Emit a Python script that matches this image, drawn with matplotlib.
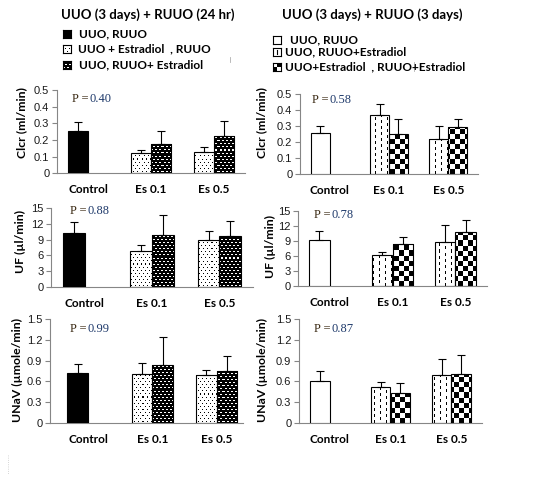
import numpy as np
import matplotlib
matplotlib.use("Agg")
import matplotlib.pyplot as plt
from matplotlib.lines import Line2D

W, H, DPI = 542, 490, 100

# ---------------- data ----------------
categories = ["Control", "Es 0.1", "Es 0.5"]

title_24h = "UUO (3 days) + RUUO (24 hr)"
title_3d = "UUO (3 days) + RUUO (3 days)"
legend_24h = ["UUO, RUUO", "UUO + Estradiol  , RUUO", "UUO, RUUO+ Estradiol"]
legend_3d = ["UUO, RUUO", "UUO, RUUO+Estradiol", "UUO+Estradiol  , RUUO+Estradiol"]

# Clcr (ml/min)
clcr_24_ctrl, clcr_24_ctrl_err = 0.254, 0.052
clcr_24_s1, clcr_24_s1_err = [0.122, 0.128], [0.018, 0.030]
clcr_24_s2, clcr_24_s2_err = [0.176, 0.224], [0.078, 0.090]
clcr_3d_ctrl, clcr_3d_ctrl_err = 0.258, 0.045
clcr_3d_s1, clcr_3d_s1_err = [0.372, 0.222], [0.068, 0.082]
clcr_3d_s2, clcr_3d_s2_err = [0.253, 0.297], [0.090, 0.050]

# UF (ul/min)
uf_24_ctrl, uf_24_ctrl_err = 10.2, 2.1
uf_24_s1, uf_24_s1_err = [6.77, 8.87], [1.13, 1.73]
uf_24_s2, uf_24_s2_err = [9.83, 9.64], [3.87, 2.86]
uf_3d_ctrl, uf_3d_ctrl_err = 9.07, 1.93
uf_3d_s1, uf_3d_s1_err = [6.07, 8.67], [0.60, 3.40]
uf_3d_s2, uf_3d_s2_err = [8.27, 10.67], [1.40, 2.40]

# UNaV (umole/min)
unav_24_ctrl, unav_24_ctrl_err = 0.72, 0.127
unav_24_s1, unav_24_s1_err = [0.70, 0.687], [0.161, 0.073]
unav_24_s2, unav_24_s2_err = [0.832, 0.75], [0.416, 0.213]
unav_3d_ctrl, unav_3d_ctrl_err = 0.60, 0.145
unav_3d_s1, unav_3d_s1_err = [0.522, 0.687], [0.063, 0.232]
unav_3d_s2, unav_3d_s2_err = [0.426, 0.70], [0.145, 0.277]

p_values = ["0.40", "0.58", "0.88", "0.78", "0.99", "0.87"]

ylabels = ["Clcr (ml/min)", "UF (\u00b5l/min)", "UNaV (\u00b5mole/min)"]
yticks_clcr = [0, 0.1, 0.2, 0.3, 0.4, 0.5]
yticklabels_clcr = ["0", "0.1", "0.2", "0.3", "0.4", "0.5"]
yticks_uf = [0, 3, 6, 9, 12, 15]
yticklabels_uf = ["0", "3", "6", "9", "12", "15"]
yticks_unav = [0, 0.3, 0.6, 0.9, 1.2, 1.5]
yticklabels_unav = ["0", "0.3", "0.6", "0.9", "1.2", "1.5"]

# ---------------- styling ----------------
plt.rcParams['font.family'] = ['Liberation Sans', 'DejaVu Sans']
BOLD = dict(family=['Lato', 'DejaVu Sans'], weight='bold')
AXC = '#868686'


def texture(kind, h, w):
    yy, xx = np.mgrid[0:h, 0:w]
    if kind == 'dots':
        shift = ((yy // 3) % 2) * 2
        ink = (yy % 3 == 1) & ((xx + shift) % 4 == 0)
        img = np.where(ink, 0.0, 1.0)
    elif kind == 'brick':
        shift = ((yy // 3) % 2) * 2
        light = (yy % 3 == 1) & (((xx + shift) % 4) < 2)
        img = np.where(light, 1.0, 0.0)
    elif kind == 'vdash':
        shift = ((xx // 6) % 2) * 3
        ink = (xx % 6 == 3) & (((yy + shift) % 6) < 3)
        img = np.where(ink, 0.0, 1.0)
    elif kind == 'checker':
        img = np.where(((xx // 5) + (yy // 5)) % 2 == 0, 0.0, 1.0)
    elif kind == 'black':
        img = np.zeros((h, w))
    else:
        img = np.ones((h, w))
    return np.dstack([img, img, img])


fig = plt.figure(figsize=(W / DPI, H / DPI), dpi=DPI)


def px_axes(x0, ytop, x1, ybot):
    return fig.add_axes([x0 / W, 1 - ybot / H, (x1 - x0) / W, (ybot - ytop) / H])


def fx(x):
    return x / W


def fy(y):
    return 1 - y / H


panels = [
    dict(box=(57, 90, 245, 173.3), xlim=(-0.5, 2.5), col=0,
         ctrl=clcr_24_ctrl, ctrl_err=clcr_24_ctrl_err, s1=clcr_24_s1, s1_err=clcr_24_s1_err,
         s2=clcr_24_s2, s2_err=clcr_24_s2_err, yt=yticks_clcr, ytl=yticklabels_clcr,
         p=p_values[0], ppos=(72, 99), ylab=ylabels[0], ylpos=(22, 123)),
    dict(box=(300, 94.3, 478, 174), xlim=(-0.5, 2.5), col=1,
         ctrl=clcr_3d_ctrl, ctrl_err=clcr_3d_ctrl_err, s1=clcr_3d_s1, s1_err=clcr_3d_s1_err,
         s2=clcr_3d_s2, s2_err=clcr_3d_s2_err, yt=yticks_clcr, ytl=yticklabels_clcr,
         p=p_values[1], ppos=(312, 100), ylab=ylabels[0], ylpos=(262, 123)),
    dict(box=(51, 208.3, 253, 286.7), xlim=(-0.5, 2.5), col=0,
         ctrl=uf_24_ctrl, ctrl_err=uf_24_ctrl_err, s1=uf_24_s1, s1_err=uf_24_s1_err,
         s2=uf_24_s2, s2_err=uf_24_s2_err, yt=yticks_uf, ytl=yticklabels_uf,
         p=p_values[2], ppos=(70, 211), ylab=ylabels[1], ylpos=(20, 241)),
    dict(box=(298, 210.7, 487, 285.7), xlim=(-0.5, 2.5), col=1,
         ctrl=uf_3d_ctrl, ctrl_err=uf_3d_ctrl_err, s1=uf_3d_s1, s1_err=uf_3d_s1_err,
         s2=uf_3d_s2, s2_err=uf_3d_s2_err, yt=yticks_uf, ytl=yticklabels_uf,
         p=p_values[3], ppos=(314, 215), ylab=ylabels[1], ylpos=(270, 246)),
    dict(box=(50, 319.3, 243, 422.7), xlim=(-0.59, 2.41), col=0,
         ctrl=unav_24_ctrl, ctrl_err=unav_24_ctrl_err, s1=unav_24_s1, s1_err=unav_24_s1_err,
         s2=unav_24_s2, s2_err=unav_24_s2_err, yt=yticks_unav, ytl=yticklabels_unav,
         p=p_values[4], ppos=(70, 329), ylab=ylabels[2], ylpos=(17, 370)),
    dict(box=(299, 319.3, 482, 422.7), xlim=(-0.5, 2.5), col=1,
         ctrl=unav_3d_ctrl, ctrl_err=unav_3d_ctrl_err, s1=unav_3d_s1, s1_err=unav_3d_s1_err,
         s2=unav_3d_s2, s2_err=unav_3d_s2_err, yt=yticks_unav, ytl=yticklabels_unav,
         p=p_values[5], ppos=(314, 329), ylab=ylabels[2], ylpos=(262, 370)),
]

BW = 0.32
kinds = {0: ('black', 'dots', 'brick'), 1: ('white', 'vdash', 'checker')}

for P in panels:
    x0, yt0, x1, yb0 = P['box']
    ax = px_axes(x0, yt0, x1, yb0)
    ymax = P['yt'][-1]
    xlim = P['xlim']
    wpx, hpx = int(round(x1 - x0)), int(round(yb0 - yt0))
    kc, k1, k2 = kinds[P['col']]
    xc = np.arange(len(categories))

    ax.bar([xc[0] - BW / 2], [P['ctrl']], BW,
           facecolor='black' if kc == 'black' else 'white',
           edgecolor='black', linewidth=0.8, zorder=3)
    for vals, k, off in ((P['s1'], k1, -BW / 2), (P['s2'], k2, BW / 2)):
        bars = ax.bar(xc[1:] + off, vals, BW, facecolor='none', edgecolor='black',
                      linewidth=0.8, zorder=3)
        tex = texture(k, hpx, wpx)
        for b in bars:
            im = ax.imshow(tex, extent=(xlim[0], xlim[1], 0, ymax), origin='lower',
                           interpolation='nearest', aspect='auto', zorder=2)
            im.set_clip_path(b)
    ex = [xc[0] - BW / 2, xc[1] - BW / 2, xc[2] - BW / 2, xc[1] + BW / 2, xc[2] + BW / 2]
    ey = [P['ctrl']] + list(P['s1']) + list(P['s2'])
    ee = [P['ctrl_err']] + list(P['s1_err']) + list(P['s2_err'])
    ax.errorbar(ex, ey, yerr=[np.zeros(len(ee)), ee], fmt='none', ecolor='black',
                elinewidth=0.8, capsize=3, capthick=0.8, zorder=4)

    ax.set_xlim(*xlim)
    ax.set_ylim(0, ymax)
    ax.set_facecolor('none')
    for s in ('top', 'right'):
        ax.spines[s].set_visible(False)
    for s in ('left', 'bottom'):
        ax.spines[s].set_color(AXC)
        ax.spines[s].set_linewidth(0.8)
    ax.set_yticks(P['yt'])
    ax.set_yticklabels(P['ytl'])
    ax.tick_params(axis='y', direction='out', length=3.5, width=0.8, color=AXC,
                   labelsize=8, pad=2, labelcolor='#1a1a1a')
    ax.set_xticks(xc)
    ax.set_xticklabels(categories, fontsize=8.5, **BOLD)
    ax.tick_params(axis='x', length=0, pad=8)

    px, py = P['ppos']
    fig.text(fx(px), fy(py), "P =", family=['Liberation Serif'], fontsize=9,
             color='#3b2a14', va='center', ha='left')
    fig.text(fx(px + 17), fy(py), P['p'], family=['Liberation Serif'], fontsize=9,
             color='#1f3a6b', va='center', ha='left')
    lx, ly = P['ylpos']
    fig.text(fx(lx), fy(ly), P['ylab'], rotation=90, ha='center', va='center',
             fontsize=8.8, **BOLD)

fig.text(fx(148), fy(15), title_24h, ha='center', va='center', fontsize=9.5, **BOLD)
fig.text(fx(372), fy(15), title_3d, ha='center', va='center', fontsize=9.5, **BOLD)


def legend_square(x0, yc, kind, size=8):
    a = px_axes(x0, yc - size / 2, x0 + size, yc + size / 2)
    a.imshow(texture(kind, size, size), origin='lower', interpolation='nearest',
             aspect='auto', extent=(0, 1, 0, 1))
    a.set_xticks([])
    a.set_yticks([])
    for s in a.spines.values():
        s.set_linewidth(0.8)
        s.set_color('black')


for (yc, kind, tx), lab in zip(((34, 'black', 79), (49, 'dots', 78), (65, 'brick', 79)), legend_24h):
    legend_square(63, yc, kind)
    fig.text(fx(tx), fy(yc), lab, ha='left', va='center', fontsize=8.5, **BOLD)

for (yc, tx), lab in zip(((40, 290), (52, 285), (67, 285)), legend_3d):
    legend_square(273, yc, 'white')
    fig.text(fx(tx), fy(yc), lab, ha='left', va='center', fontsize=8.5, **BOLD)

# glyph details of the right legend squares
fig.add_artist(Line2D([fx(277), fx(277)], [fy(50), fy(54)], color='black', lw=0.8))
for (cx, cy) in ((273, 67), (277, 63)):
    fig.add_artist(plt.Rectangle((fx(cx), fy(cy + 4)), 4 / W, 4 / H, facecolor='black',
                                 edgecolor='none', transform=fig.transFigure))

# small stray marks in the original
fig.add_artist(Line2D([fx(230), fx(230)], [fy(57), fy(62)], color='#b0b0b0', lw=0.6))
fig.add_artist(Line2D([fx(414), fx(414)], [fy(62), fy(71)], color='#b0b0b0', lw=0.6))
fig.add_artist(Line2D([fx(8), fx(8)], [fy(455), fy(474)], color='#c8c8c8', lw=0.6, ls=':'))

fig.savefig('out.png', dpi=DPI)
